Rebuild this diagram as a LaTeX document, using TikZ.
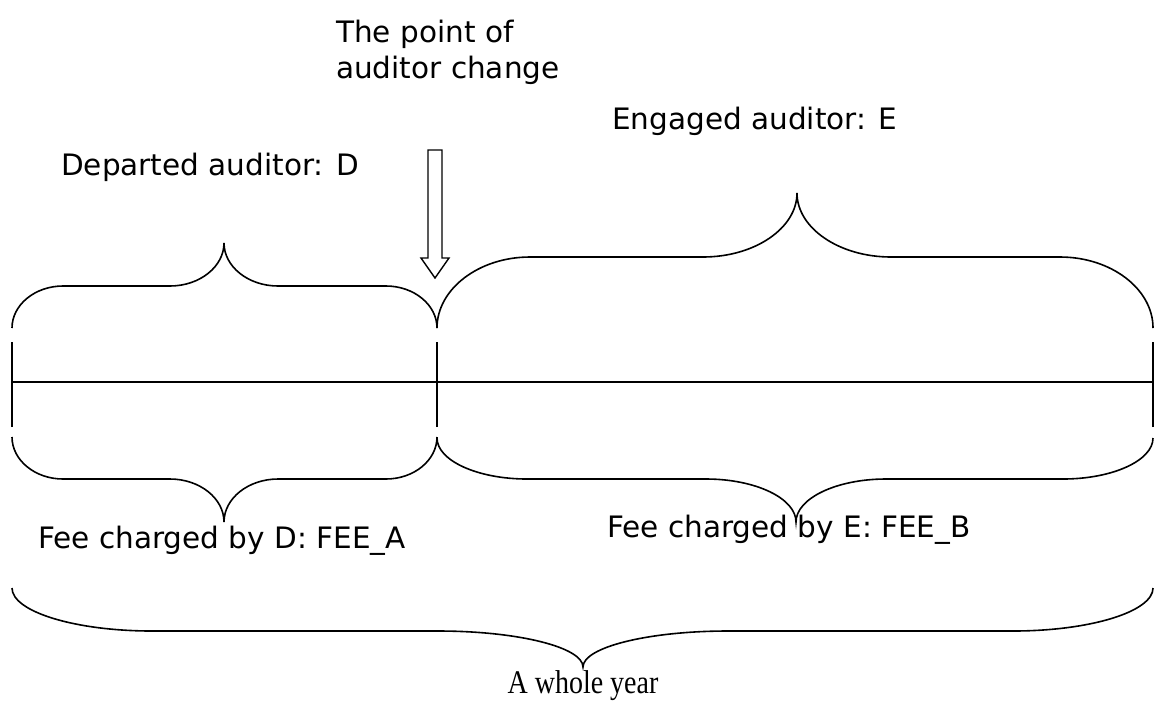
\documentclass[tikz,border=0pt]{standalone}
\usepackage{fontspec}
\setmainfont{DejaVu Sans}
\newfontfamily\serifyear{Liberation Serif}
% #1 x-left, #2 x-right, #3 x-tip, #4 y-ends, #5 y-flat, #6 y-tip, #7 end-curve width, #8 tip-curve width
\newcommand\mybrace[8]{%
  \draw[line] (#1,#4) .. controls (#1,{#4+(#5-#4)*0.55}) and ({#1+#7*0.45},#5) .. ({#1+#7},#5)
   -- ({#3-#8},#5) .. controls ({#3-#8*0.45},#5) and (#3,{#5+(#6-#5)*0.45}) .. (#3,#6)
   .. controls (#3,{#5+(#6-#5)*0.45}) and ({#3+#8*0.45},#5) .. ({#3+#8},#5)
   -- ({#2-#7},#5) .. controls ({#2-#7*0.45},#5) and (#2,{#4+(#5-#4)*0.55}) .. (#2,#4);}
\begin{document}
\begin{tikzpicture}[x=1pt,y=-1pt,
  line/.style={line width=1.6pt,black},
  lbl/.style={font=\fontsize{29.5}{34}\selectfont, inner sep=0pt, anchor=base west}]
\useasboundingbox (0,0) rectangle (1155,702);

% labels
\node[lbl] (pt1) at (336,42) {The point of};
\node[lbl] (pt2) at (336,78) {auditor change};
\node[lbl] (eng) at (612,129) {Engaged auditor: E};
\node[lbl] (dep) at (61,175) {Departed auditor: D};
\node[lbl] (feeA) at (38,548) {Fee charged by D: FEE\_A};
\node[lbl] (feeB) at (607,537) {Fee charged by E: FEE\_B};
\node[anchor=base, inner sep=0pt, font=\serifyear\fontsize{28}{32}\selectfont] (year) at (583,693) {\scalebox{1}[1.18]{A whole year}};

% timeline
\coordinate (L) at (12,382);
\coordinate (M) at (437,382);
\coordinate (R) at (1153,382);
\draw[line] (L) -- (R);
\foreach \c in {L,M,R}{
  \draw[line] ([yshift=-45pt]\c) -- ([yshift=40pt]\c);
}

% hollow arrow
\draw[line width=1.4pt] (428,150) -- (442,150) -- (442,258) -- (449,258) -- (435,278)
  -- (421,258) -- (428,258) -- cycle;

% braces
\mybrace{12}{437}{224}{328}{286}{243}{51}{54}
\mybrace{437}{1153}{797}{328}{257}{193}{93}{94}
\mybrace{12}{437}{224}{437}{479}{522}{51}{54}
\mybrace{437}{1153}{796}{438}{479}{522}{90}{90}
\mybrace{12}{1153}{583}{588}{631}{667}{140}{145}
\end{tikzpicture}
\end{document}
